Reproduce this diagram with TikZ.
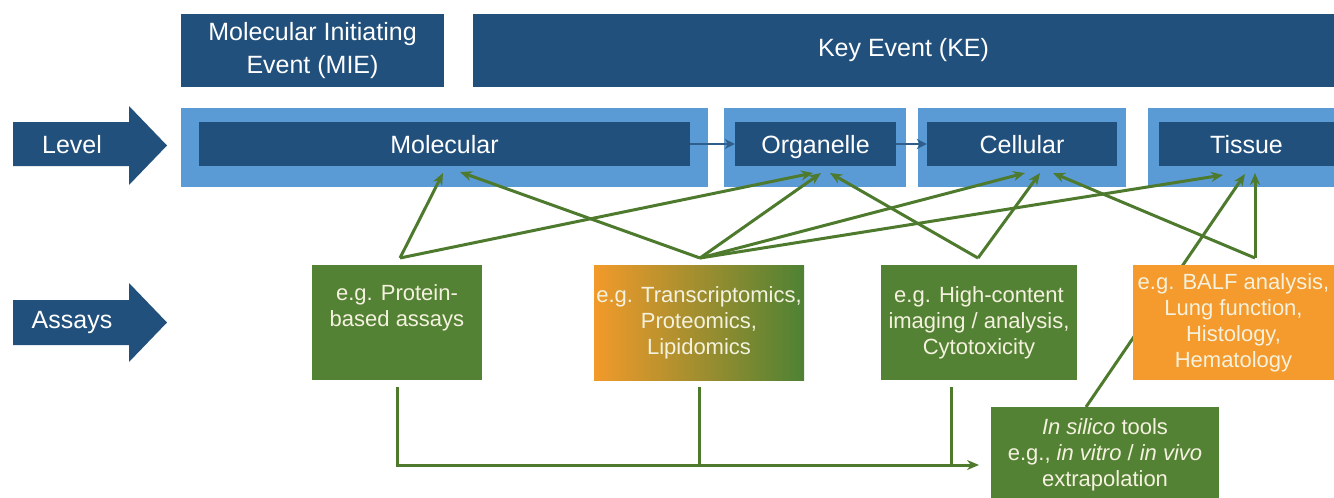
\documentclass[tikz,border=0pt]{standalone}
\usepackage{fontspec}
\setmainfont{Liberation Sans}
\usetikzlibrary{arrows.meta}
\definecolor{dkblue}{HTML}{22507C}
\definecolor{ltblue}{HTML}{5B9BD5}
\definecolor{agreen}{HTML}{548235}
\definecolor{aorange}{HTML}{F59A2C}
\definecolor{gorange}{HTML}{F29A2A}
\definecolor{ggreen}{HTML}{4E8234}
\definecolor{lgreen}{HTML}{4E7A2E}
\definecolor{cream}{HTML}{F4F2DE}
\definecolor{sarrow}{HTML}{2F5E8C}
\begin{document}
\begin{tikzpicture}[x=1pt,y=-1pt,
 band/.style={fill=ltblue, inner sep=0, minimum height=79pt},
 dbox/.style={fill=dkblue, text=white, inner sep=0, align=center, font=\fontsize{25}{33}\selectfont},
 lvl/.style={dbox, minimum height=44pt, text height=18pt, text depth=0pt},
 assay/.style={fill=agreen, text=cream, inner sep=0, align=center, minimum height=115pt, font=\fontsize{22}{26}\selectfont},
 garrow/.style={draw=lgreen, line width=3pt, -{Stealth[length=12pt,width=10pt]}},
 gline/.style={draw=lgreen, line width=3pt},
 barrow/.style={draw=sarrow, line width=2pt, -{Stealth[length=10pt,width=10pt]}},
 bigarrow/.style={fill=dkblue},
 lbl/.style={text=white, inner sep=0, font=\fontsize{25}{30}\selectfont}
]
\useasboundingbox (0,0) rectangle (1334,498);

% header boxes
\node[dbox, minimum width=263pt, minimum height=73pt] (mie) at (312.5,50.5) {Molecular Initiating\\Event (MIE)};
\node[dbox, minimum width=861pt, minimum height=73pt] (ke) at (903.5,50.5) {Key Event (KE)};

% side arrows
\fill[bigarrow] (13,122) -- (129,122) -- (129,106) -- (167,145.5) -- (129,185) -- (129,166) -- (13,166) -- cycle;
\node[lbl] (level) at (72,145) {Level};
\fill[bigarrow] (13,300) -- (129,300) -- (129,283) -- (167,322.5) -- (129,362) -- (129,345) -- (13,345) -- cycle;
\node[lbl] (assays) at (72,322) {Assays};

% bands
\node[band, minimum width=527pt] (b1) at (444.5,147.5) {};
\node[band, minimum width=182pt] (b2) at (815,147.5) {};
\node[band, minimum width=208pt] (b3) at (1022,147.5) {};
\node[band, minimum width=186pt] (b4) at (1241,147.5) {};

% level boxes
\node[lvl, minimum width=491pt] (mol) at (444.5,144) {Molecular};
\node[lvl, minimum width=161pt] (org) at (815.5,144) {Organelle};
\node[lvl, minimum width=190pt] (cel) at (1022,144) {Cellular};
\node[lvl, minimum width=175pt] (tis) at (1246.5,144) {Tissue};

\draw[barrow] (mol.east) -- (org.west);
\draw[barrow] (org.east) -- (cel.west);

% assay boxes
\node[assay, minimum width=170pt] (prot) at (397,322.5) {e.g. Protein-\\based assays\\\strut};
\node[assay, minimum width=210pt, left color=gorange, right color=ggreen] (trans) at (699,322.5) {e.g. Transcriptomics,\\Proteomics,\\Lipidomics};
\node[assay, minimum width=196pt] (high) at (979,322.5) {e.g. High-content\\imaging / analysis,\\Cytotoxicity};
\node[assay, minimum width=228pt, minimum height=91pt, text depth=0pt] (insil) at (1105,452.5) {\textit{In silico} tools\\e.g., \textit{in vitro} / \textit{in vivo}\\extrapolation};

% vertices and tips
\coordinate (pv) at (400,258);
\coordinate (tv) at (700,258);
\coordinate (hv) at (978,258);
\coordinate (bv) at (1255,258);
\coordinate (iv) at (1086,407);
\coordinate (molA) at (443,173);
\coordinate (molB) at (460,172);
\coordinate (orgA) at (813,173);
\coordinate (orgB) at (821,173);
\coordinate (orgC) at (830,173);
\coordinate (celA) at (1025,173);
\coordinate (celB) at (1040,173);
\coordinate (celC) at (1053,173);
\coordinate (tisA) at (1223,175);
\coordinate (tisB) at (1245,174);
\coordinate (tisC) at (1255,173);

\draw[garrow] (pv) -- (molA);
\draw[garrow] (pv) -- (orgA);
\draw[garrow] (tv) -- (molB);
\draw[garrow] (tv) -- (orgB);
\draw[garrow] (tv) -- (celA);
\draw[garrow] (tv) -- (tisA);
\draw[garrow] (hv) -- (orgC);
\draw[garrow] (hv) -- (celB);
\draw[garrow] (bv) -- (celC);
\draw[garrow] (bv) -- (tisC);
\draw[garrow] (iv) -- (tisB);

\node[assay, minimum width=201pt, fill=aorange] (balf) at (1233.5,322.5) {e.g. BALF analysis,\\Lung function,\\Histology,\\Hematology};

% bottom connectors
\coordinate (pb) at (397,387);
\coordinate (tb) at (699,387);
\coordinate (hb) at (951,387);
\coordinate (join) at (951,465);
\coordinate (iin) at (979,465);
\draw[gline] (tb) -- (699,465);
\draw[gline] (hb) -- (join);
\draw[garrow, line join=miter] (pb) |- (iin);
\end{tikzpicture}
\end{document}
